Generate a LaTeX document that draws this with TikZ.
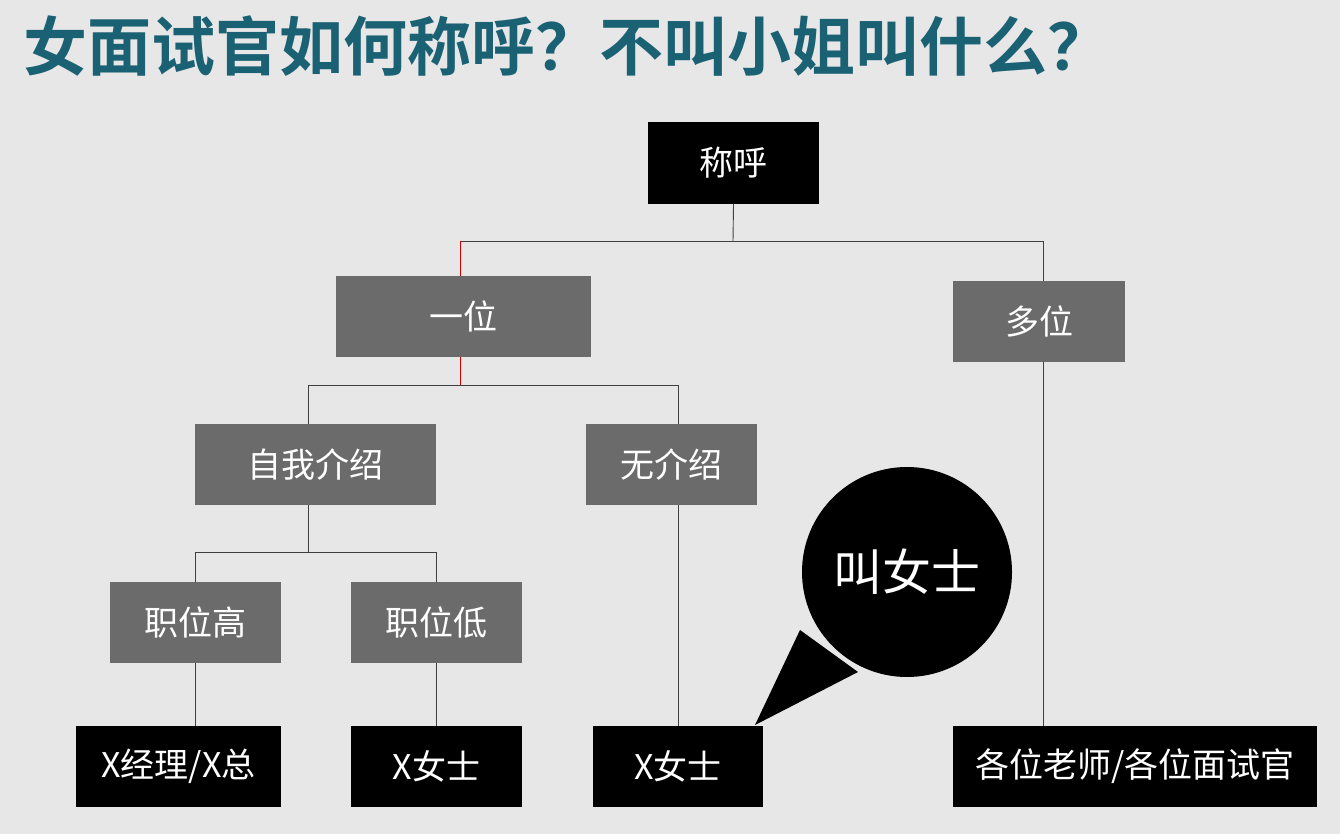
\documentclass[tikz,border=0pt]{standalone}
\usepackage{fontspec}
\setmainfont{Noto Sans CJK SC}
\newfontfamily\titlefont{Noto Sans CJK SC Bold}
\usetikzlibrary{positioning}
\definecolor{bggray}{HTML}{E7E7E7}
\definecolor{boxgray}{HTML}{6B6B6B}
\definecolor{titleblue}{HTML}{1B6174}
\tikzset{
  box/.style={fill=boxgray,text=white,inner sep=0pt,font=\fontsize{34}{38}\selectfont},
  endbox/.style={fill=black,text=white,inner sep=0pt,font=\fontsize{34}{38}\selectfont},
  link/.style={draw=black!75,line width=0.9pt},
  redlink/.style={draw=red!85!black,line width=0.9pt}
}
\begin{document}
\begin{tikzpicture}[x=1pt,y=-1pt]
\fill[bggray] (0,0) rectangle (1340,834);
\useasboundingbox (0,0) rectangle (1340,834);
\node[anchor=west,text=titleblue,font=\titlefont\fontsize{64}{68}\selectfont] (title) at (20,46) {女面试官如何称呼？不叫小姐叫什么？};

\node[endbox,minimum width=171pt,minimum height=82pt] (root) at (733.5,163) {称呼};
\node[box,minimum width=255pt,minimum height=81pt] (one) at (463.5,316.5) {一位};
\node[box,minimum width=172pt,minimum height=81pt] (many) at (1039,321.5) {多位};
\node[box,minimum width=241pt,minimum height=81pt] (self) at (315.5,464.5) {自我介绍};
\node[box,minimum width=171pt,minimum height=81pt] (noself) at (671.5,464.5) {无介绍};
\node[box,minimum width=171pt,minimum height=81pt] (high) at (195.5,622.5) {职位高};
\node[box,minimum width=171pt,minimum height=81pt] (low) at (436.5,622.5) {职位低};
\node[endbox,minimum width=205pt,minimum height=81pt] (mgr) at (178.5,766.5) {X经理/X总};
\node[endbox,minimum width=171pt,minimum height=81pt] (msa) at (436.5,766.5) {X女士};
\node[endbox,minimum width=170pt,minimum height=81pt] (msb) at (678,766.5) {X女士};
\node[endbox,minimum width=364pt,minimum height=81pt] (all) at (1135,766.5) {各位老师/各位面试官};

% tree connectors
\coordinate (j1) at (733,241);
\coordinate (j2) at (460,385);
\coordinate (j3) at (308,552);
\draw[link] (root.south) -- (j1);
\draw[link] (460,241) -- (1043,241) -- (many.north -| 1043,0);
\draw[redlink] (460,241) -- (one.north -| 460,0);
\draw[redlink] (one.south -| 460,0) -- (j2);
\draw[link] (self.north -| 308,0) -- (308,385) -- (678,385) -- (noself.north -| 678,0);
\draw[link] (self.south -| 308,0) -- (j3);
\draw[link] (high.north -| 195,0) -- (195,552) -- (436,552) -- (low.north -| 436,0);
\draw[link] (high.south -| 195,0) -- (mgr.north -| 195,0);
\draw[link] (low.south) -- (msa.north);
\draw[link] (noself.south -| 678,0) -- (msb.north -| 678,0);
\draw[link] (many.south -| 1043,0) -- (all.north -| 1043,0);

% callout
\fill[black] (755,725) -- (800,630) -- (858,672) -- cycle;
\node[circle,fill=black,text=white,minimum size=210pt,inner sep=0pt,font=\fontsize{49}{53}\selectfont] (bubble) at (907,572) {叫女士};
\end{tikzpicture}
\end{document}
